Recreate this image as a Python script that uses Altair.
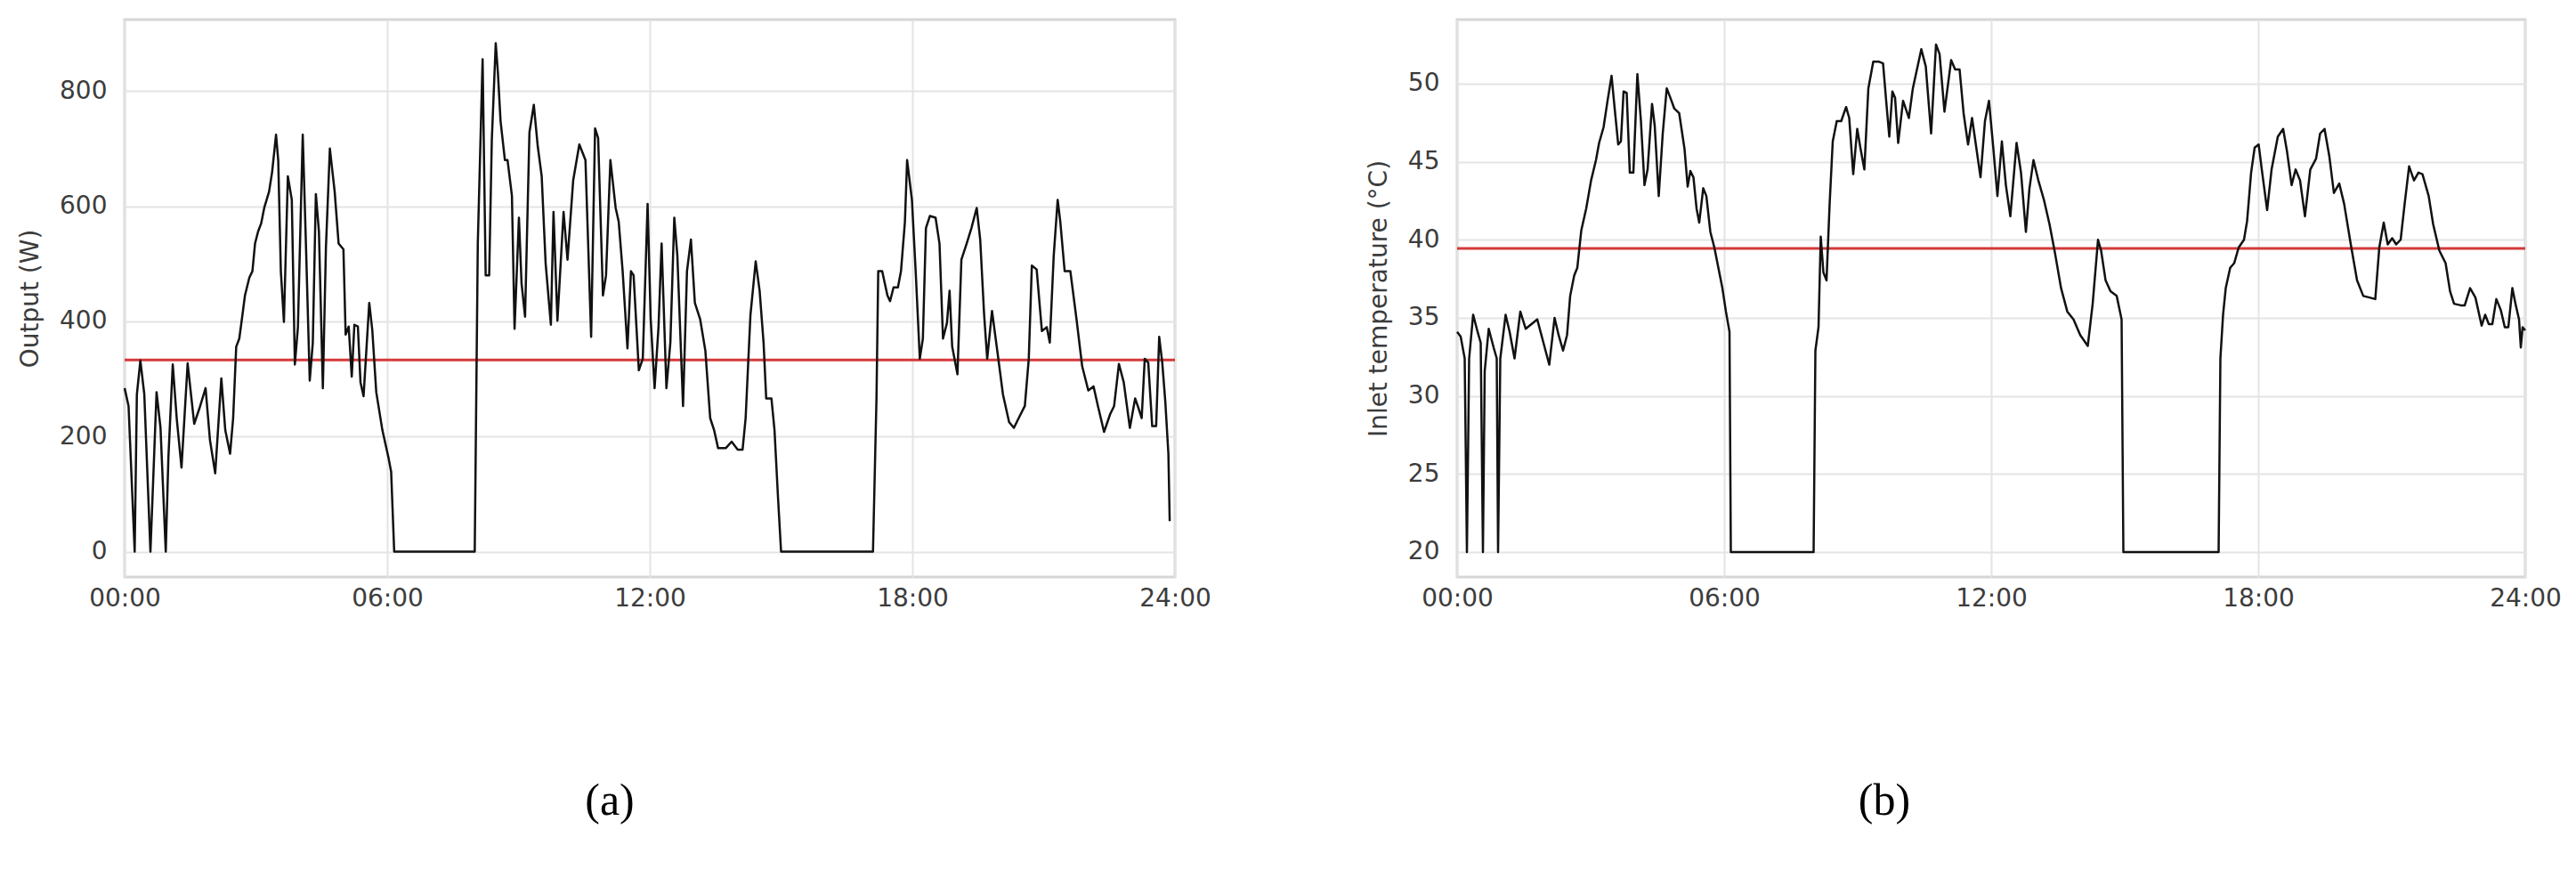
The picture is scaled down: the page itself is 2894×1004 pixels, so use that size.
import altair as alt
import pandas as pd

# ---------------- data ----------------
x_ticks = [0, 6, 12, 18, 24]

# (a) Output (W)
out_hours = [
    0.00, 0.09, 0.23, 0.28, 0.36, 0.45, 0.59, 0.73, 0.82, 0.94,
    1.00, 1.10, 1.19, 1.30, 1.44, 1.59, 1.71, 1.85, 1.95, 2.07,
    2.21, 2.30, 2.41, 2.48, 2.55, 2.62, 2.68, 2.75, 2.85, 2.92,
    2.98, 3.05, 3.12, 3.19, 3.30, 3.37, 3.46, 3.51, 3.57, 3.64,
    3.73, 3.82, 3.89, 3.96, 4.07, 4.14, 4.23, 4.30, 4.37, 4.44,
    4.53, 4.60, 4.69, 4.80, 4.89, 5.00, 5.05, 5.12, 5.19, 5.25,
    5.33, 5.39, 5.46, 5.59, 5.66, 5.75, 5.89, 6.03, 6.09, 6.16,
    8.00, 8.07, 8.18, 8.25, 8.33, 8.39, 8.48, 8.53, 8.59, 8.69,
    8.75, 8.85, 8.91, 9.01, 9.07, 9.15, 9.25, 9.35, 9.44, 9.53,
    9.62, 9.74, 9.80, 9.89, 10.03, 10.12, 10.25,
    10.39, 10.53, 10.66, 10.75, 10.82, 10.93, 11.00, 11.10, 11.22, 11.29,
    11.38, 11.49, 11.57, 11.63, 11.75, 11.84, 11.95, 12.02, 12.11, 12.20,
    12.27, 12.38, 12.47, 12.56, 12.63, 12.76, 12.85, 12.94, 13.03, 13.15,
    13.27, 13.38, 13.47, 13.56, 13.74, 13.87, 14.01, 14.12, 14.19, 14.30,
    14.42, 14.51, 14.60, 14.66, 14.78, 14.85, 14.93, 15.00, 17.10, 17.18,
    17.22, 17.31, 17.43, 17.49, 17.57, 17.67, 17.74, 17.83, 17.88, 17.99,
    18.08, 18.17, 18.24, 18.31, 18.40, 18.53, 18.62, 18.70, 18.79, 18.85,
    18.91, 19.03, 19.12, 19.24, 19.35, 19.47, 19.55, 19.64, 19.71, 19.82,
    19.94, 20.07, 20.21, 20.32, 20.43, 20.57, 20.66, 20.73, 20.84, 20.96,
    21.07, 21.14, 21.23, 21.32, 21.38, 21.48, 21.61, 21.75, 21.88, 22.02,
    22.14, 22.24, 22.38, 22.52, 22.61, 22.72, 22.83, 22.97, 23.09, 23.15,
    23.24, 23.31, 23.39, 23.48, 23.57, 23.64, 23.71, 23.78, 23.85, 23.88,
]
out_watts = [
    284, 253, 0, 273, 332, 273, 0, 277, 215, 0,
    163, 325, 232, 146, 327, 222, 249, 284, 194, 136,
    301, 211, 170, 232, 356, 370, 404, 445, 476, 487,
    535, 556, 570, 597, 625, 659, 724, 680, 487, 399,
    652, 611, 325, 390, 724, 542, 297, 363, 621, 556,
    284, 528, 700, 625, 535, 525, 377, 391, 304, 394,
    391, 294, 270, 432, 384, 277, 211, 163, 139, 0,
    0, 535, 855, 480, 480, 714, 883, 831, 748, 680,
    680, 618, 387, 580, 466, 408, 728, 776, 704, 652,
    501, 394, 590, 401, 590, 507, 645,
    707, 680, 373, 735, 718, 445, 480, 680, 597, 573,
    487, 353, 487, 480, 315, 335, 604, 405, 284, 391,
    535, 284, 363, 580, 514, 253, 487, 542, 432, 404,
    349, 232, 211, 180, 180, 191, 177, 177, 232, 411,
    504, 453, 363, 266, 266, 211, 94, 0, 0, 266,
    487, 487, 445, 435, 459, 459, 487, 573, 680, 611,
    480, 335, 370, 562, 583, 580, 535, 370, 397, 453,
    356, 308, 507, 535, 562, 597, 542, 411, 335, 418,
    349, 273, 225, 215, 232, 253, 335, 497, 490, 383,
    390, 363, 514, 611, 573, 487, 487, 404, 322, 280,
    287, 253, 208, 239, 253, 326, 294, 215, 266, 253,
    232, 335, 328, 218, 218, 373, 328, 260, 170, 53,
]
out_mean = 333

# (b) Inlet temperature (°C)
tin_hours = [
    0.00, 0.08, 0.17, 0.22, 0.27, 0.36, 0.46, 0.53, 0.58, 0.62,
    0.71, 0.82, 0.89, 0.92, 0.97, 1.09, 1.18, 1.29, 1.42, 1.54,
    1.67, 1.80, 1.94, 2.07, 2.19, 2.28, 2.38, 2.47, 2.54, 2.63,
    2.70, 2.79, 2.90, 3.01, 3.12, 3.19, 3.29, 3.38, 3.47, 3.54,
    3.62, 3.68, 3.74, 3.81, 3.88, 3.96, 4.05, 4.13, 4.21, 4.28,
    4.38, 4.44, 4.53, 4.62, 4.71, 4.79, 4.88, 4.99, 5.11, 5.18,
    5.24, 5.31, 5.38, 5.44, 5.53, 5.60, 5.69, 5.78, 5.87, 5.96,
    6.04, 6.12, 6.15, 8.01, 8.05, 8.12, 8.17, 8.23, 8.30, 8.37,
    8.44, 8.53, 8.63, 8.74, 8.81, 8.90, 8.99, 9.06, 9.15, 9.24,
    9.35, 9.48, 9.57, 9.64, 9.71, 9.78, 9.84, 9.91, 10.02, 10.15,
    10.24,
    10.43, 10.53, 10.65, 10.76, 10.84, 10.95, 11.10, 11.19, 11.29, 11.38,
    11.48, 11.57, 11.67, 11.76, 11.86, 11.95, 12.05, 12.14, 12.24, 12.33,
    12.43, 12.57, 12.67, 12.78, 12.86, 12.95, 13.06, 13.19, 13.31, 13.43,
    13.57, 13.71, 13.85, 14.00, 14.17, 14.28, 14.40, 14.47, 14.57, 14.68,
    14.82, 14.93, 14.97, 17.11, 17.15, 17.21, 17.27, 17.37, 17.46, 17.56,
    17.68, 17.75, 17.84, 17.92, 18.01, 18.08, 18.20, 18.30, 18.44, 18.56,
    18.65, 18.75, 18.84, 18.94, 19.05, 19.17, 19.30, 19.39, 19.49, 19.60,
    19.70, 19.82, 19.93, 20.08, 20.22, 20.36, 20.50, 20.63, 20.72, 20.82,
    20.91, 21.01, 21.10, 21.20, 21.29, 21.39, 21.50, 21.60, 21.69, 21.83,
    21.93, 22.07, 22.21, 22.31, 22.40, 22.55, 22.64, 22.76, 22.88, 23.02,
    23.10, 23.18, 23.26, 23.35, 23.45, 23.54, 23.62, 23.71, 23.78, 23.86,
    23.90, 23.94, 24.00,
]
tin_temp = [
    34.1, 33.8, 32.4, 20.0, 32.4, 35.2, 34.1, 33.4, 20.0, 31.6,
    34.3, 33.1, 32.4, 20.0, 32.4, 35.2, 34.1, 32.4, 35.4, 34.3,
    34.6, 34.9, 33.4, 32.0, 35.0, 33.9, 32.9, 33.9, 36.4, 37.7,
    38.2, 40.6, 42.0, 43.8, 45.1, 46.2, 47.2, 48.9, 50.5, 48.4,
    46.1, 46.3, 49.5, 49.4, 44.3, 44.3, 50.6, 47.6, 43.5, 44.5,
    48.7, 47.3, 42.8, 46.8, 49.7, 49.1, 48.4, 48.1, 45.8, 43.4,
    44.4, 44.0, 42.0, 41.1, 43.3, 42.8, 40.5, 39.5, 38.2, 36.9,
    35.4, 34.1, 20.0, 20.0, 32.9, 34.4, 40.2, 37.9, 37.4, 42.3,
    46.3, 47.6, 47.6, 48.5, 47.8, 44.2, 47.1, 45.9, 44.5, 49.7,
    51.4, 51.4, 51.3, 48.9, 46.6, 49.5, 49.1, 46.2, 48.9, 47.8,
    49.7,
    52.2, 51.1, 46.8, 52.5, 51.9, 48.2, 51.5, 50.9, 50.9, 48.1,
    46.1, 47.8, 45.8, 44.0, 47.6, 48.9, 45.8, 42.8, 46.3, 43.5,
    41.5, 46.2, 44.3, 40.5, 43.3, 45.1, 43.8, 42.5, 41.0, 39.2,
    36.9, 35.4, 34.9, 33.9, 33.2, 35.9, 40.0, 39.3, 37.4, 36.7,
    36.4, 34.9, 20.0, 20.0, 32.4, 35.2, 36.9, 38.2, 38.5, 39.5,
    40.0, 41.2, 44.3, 45.9, 46.1, 44.5, 41.9, 44.5, 46.6, 47.1,
    45.6, 43.5, 44.5, 43.8, 41.5, 44.5, 45.2, 46.8, 47.1, 45.3,
    43.0, 43.6, 42.3, 39.7, 37.4, 36.4, 36.3, 36.2, 39.5, 41.1,
    39.7, 40.1, 39.7, 40.0, 42.3, 44.7, 43.8, 44.3, 44.2, 42.8,
    41.0, 39.3, 38.5, 36.7, 35.9, 35.8, 35.8, 36.9, 36.3, 34.5,
    35.2, 34.6, 34.6, 36.2, 35.5, 34.4, 34.4, 36.9, 35.9, 34.9,
    33.1, 34.4, 34.2,
]
tin_mean = 39.45

# ---------------- chart ----------------
FONT = "DejaVu Sans"
TIME_LABEL = "(datum.value < 10 ? '0' : '') + datum.value + ':00'"


def panel(hours, values, mean, ytitle, ydomain, yticks, sub, width, dx):
    df = pd.DataFrame({"h": hours, "v": values})
    mean_df = pd.DataFrame({"v": [mean]})
    x = alt.X(
        "h:Q",
        scale=alt.Scale(domain=[0, 24], nice=False, zero=False),
        axis=alt.Axis(values=x_ticks, labelExpr=TIME_LABEL, title=None,
                      labelFlush=False, labelOverlap=False, labelPadding=10),
    )
    y = alt.Y(
        "v:Q",
        scale=alt.Scale(domain=ydomain, nice=False, zero=False),
        axis=alt.Axis(values=yticks, title=ytitle, labelPadding=20,
                      titlePadding=18, labelOverlap=False),
    )
    rule = alt.Chart(mean_df).mark_rule(color="#d43a3a", strokeWidth=3).encode(y="v:Q")
    line = alt.Chart(df).mark_line(color="#111111", strokeWidth=2.5,
                                   strokeJoin="round").encode(x=x, y=y)
    return alt.layer(rule, line).properties(
        width=width,
        height=626,
        title=alt.TitleParams(
            sub, orient="bottom", anchor="middle", font="Liberation Serif",
            fontSize=50, fontWeight="normal", color="black", offset=189, dx=dx,
        ),
    )


left = panel(out_hours, out_watts, out_mean, "Output (W)", [-44, 924],
             [0, 200, 400, 600, 800], "(a)", 1180, -45)
right = panel(tin_hours, tin_temp, tin_mean, "Inlet temperature (°C)",
              [18.4, 54.1], [20, 25, 30, 35, 40, 45, 50], "(b)", 1200, -120)

chart = (
    alt.hconcat(left, right, spacing=171)
    .properties(padding={"left": 11, "top": 12, "right": 0, "bottom": 0},
                background="white")
    .configure_axis(
        labelFont=FONT, titleFont=FONT, labelFontSize=28, titleFontSize=28,
        labelColor="#3c3c3c", titleColor="#3c3c3c", titleFontWeight="normal",
        ticks=False, domain=False, grid=True, gridColor="#e4e4e4", gridWidth=2,
    )
    .configure_view(stroke="#d6d6d6", strokeWidth=3)
)

chart.save("out.html", embed_options={"renderer": "svg", "actions": False})
